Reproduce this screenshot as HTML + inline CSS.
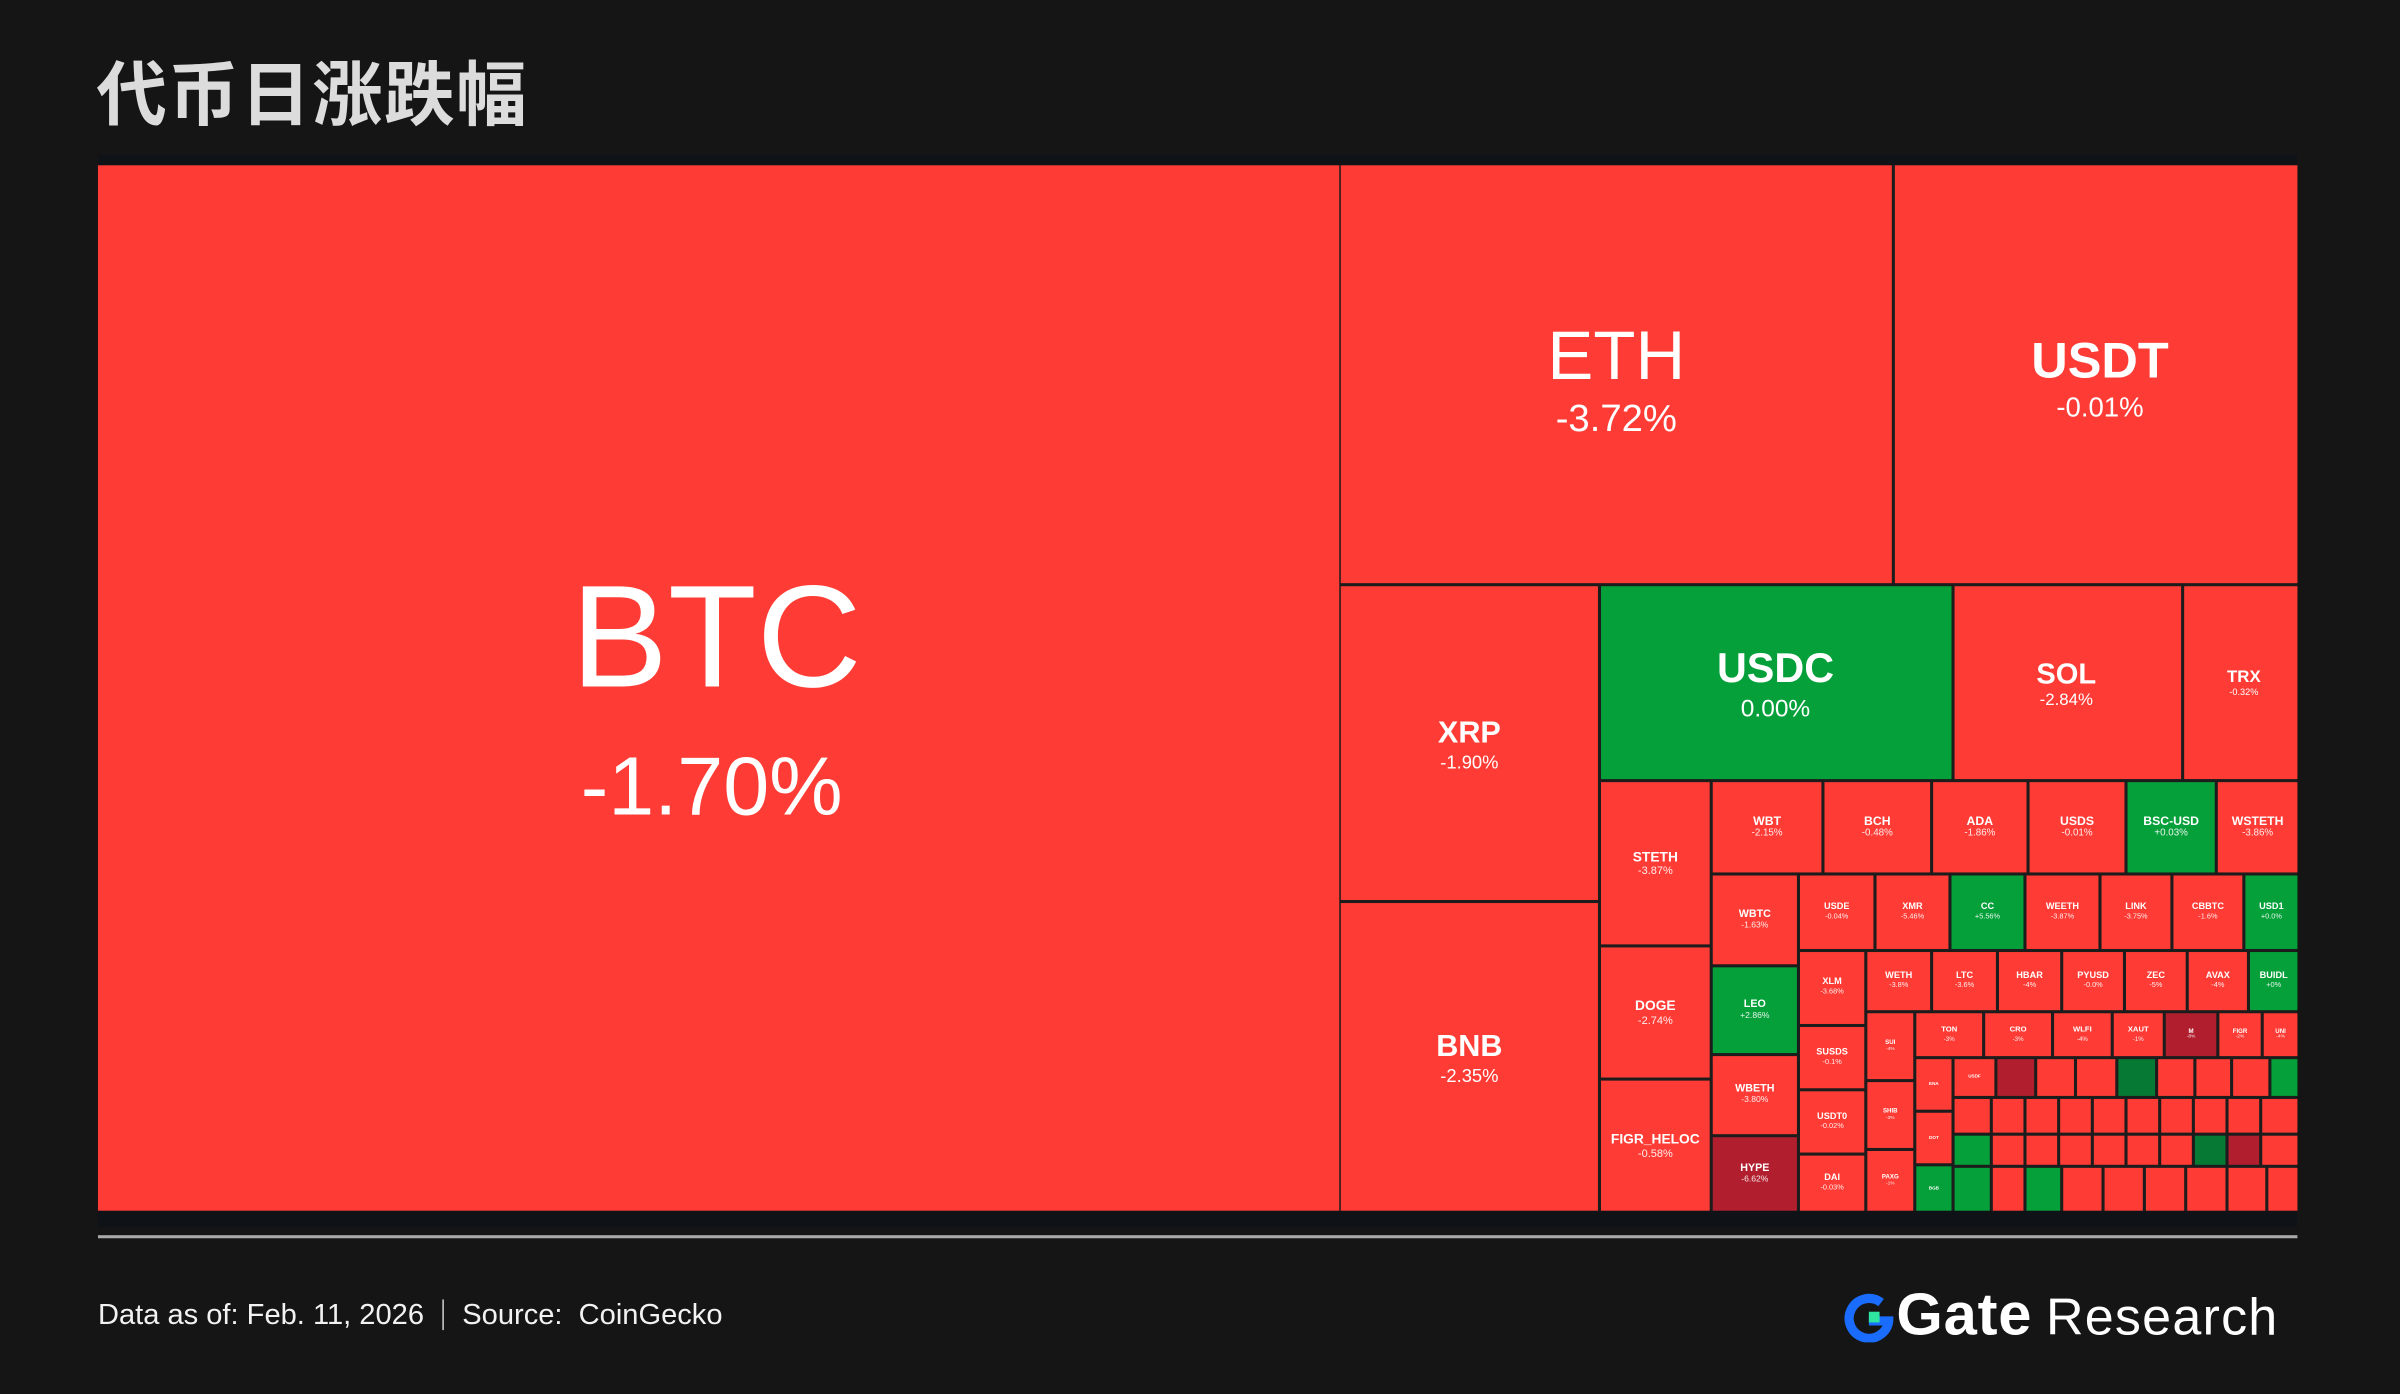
<!DOCTYPE html>
<html><head><meta charset="utf-8"><style>
html,body{margin:0;padding:0;background:#151515;}
body{width:2400px;height:1394px;overflow:hidden;position:relative;}
#w{position:absolute;left:0;top:0;width:1568px;height:911px;transform:scale(1.5306);transform-origin:0 0;}
.title{position:absolute;left:63px;top:39px;font:bold 46px "Liberation Sans","Noto Sans CJK SC",sans-serif;color:#dcdcdc;line-height:1;letter-spacing:1px;}
.cbg{position:absolute;left:64px;top:101px;width:1437px;height:701px;background:#0f1317;}
.tm{position:absolute;left:64px;top:108px;width:1437px;height:683px;background:#1c1c1c;}
.t{position:absolute;background:#fe3c35;display:flex;flex-direction:column;align-items:center;justify-content:center;color:#fff;font-family:"Liberation Sans",sans-serif;font-weight:bold;line-height:1.15;overflow:hidden;text-align:center;font-size:6px;}
.t span{font-weight:normal;font-size:0.8em;opacity:.9}
.g{background:#05a03a}.dr{background:#b11f2e}.dg{background:#067a35}
.L{position:absolute;color:#fff;font-family:"Liberation Sans",sans-serif;line-height:1;white-space:nowrap;transform:translate(-50%,-50%);}
.line{position:absolute;left:64px;top:807px;width:1437px;height:2px;background:#a9a9a9;}
.foot{position:absolute;left:64px;top:849px;font:19px "Liberation Sans",sans-serif;color:#f2f2f2;white-space:nowrap;}
.sep{display:inline-block;width:1px;height:20px;background:#ccc;vertical-align:-4px;margin:0 12px;}
.logo{position:absolute;left:1205px;top:838px;font-family:"Liberation Sans",sans-serif;color:#fff;white-space:nowrap;}
</style></head><body><div id="w">
<div class="title">代币日涨跌幅</div>
<div class="cbg"></div>
<div class="tm"></div>

<div class="t" style="left:64px;top:108px;width:811px;height:683px"></div>
<div class="L" style="left:468px;top:417px;font-size:95px">BTC</div>
<div class="L" style="left:465px;top:514px;font-size:54px">-1.70%</div>
<div class="t" style="left:876px;top:108px;width:360px;height:273px"></div>
<div class="L" style="left:1056px;top:232px;font-size:45px">ETH</div>
<div class="L" style="left:1056px;top:274px;font-size:25px">-3.72%</div>
<div class="t" style="left:1238px;top:108px;width:263px;height:273px"></div>
<div class="L" style="left:1372px;top:235px;font-size:33px;font-weight:bold">USDT</div>
<div class="L" style="left:1372px;top:266px;font-size:18px">-0.01%</div>
<div class="t" style="left:876px;top:383px;width:168px;height:205px"></div>
<div class="L" style="left:960px;top:479px;font-size:20px;font-weight:bold">XRP</div>
<div class="L" style="left:960px;top:498px;font-size:12px">-1.90%</div>
<div class="t" style="left:876px;top:590px;width:168px;height:201px"></div>
<div class="L" style="left:960px;top:684px;font-size:20px;font-weight:bold">BNB</div>
<div class="L" style="left:960px;top:703px;font-size:12px">-2.35%</div>
<div class="t g" style="left:1046px;top:383px;width:229px;height:126px"></div>
<div class="L" style="left:1160px;top:437px;font-size:27px;font-weight:bold">USDC</div>
<div class="L" style="left:1160px;top:464px;font-size:16px">0.00%</div>
<div class="t" style="left:1277px;top:383px;width:148px;height:126px"></div>
<div class="L" style="left:1350px;top:441px;font-size:19px;font-weight:bold">SOL</div>
<div class="L" style="left:1350px;top:458px;font-size:11px">-2.84%</div>
<div class="t" style="left:1427px;top:383px;width:74px;height:126px"></div>
<div class="L" style="left:1466px;top:443px;font-size:11px;font-weight:bold">TRX</div>
<div class="L" style="left:1466px;top:453px;font-size:6px">-0.32%</div>

<div class="t" style="left:1046px;top:511px;width:71px;height:106px;font-size:9px">STETH<span>-3.87%</span></div>
<div class="t" style="left:1046px;top:619px;width:71px;height:85px;font-size:9px">DOGE<span>-2.74%</span></div>
<div class="t" style="left:1046px;top:706px;width:71px;height:85px;font-size:9px">FIGR_HELOC<span>-0.58%</span></div>

<div class="t" style="left:1119px;top:511px;width:71px;height:59px;font-size:8px">WBT<span>-2.15%</span></div>
<div class="t" style="left:1192px;top:511px;width:69px;height:59px;font-size:8px">BCH<span>-0.48%</span></div>
<div class="t" style="left:1263px;top:511px;width:61px;height:59px;font-size:8px">ADA<span>-1.86%</span></div>
<div class="t" style="left:1326px;top:511px;width:62px;height:59px;font-size:8px">USDS<span>-0.01%</span></div>
<div class="t g" style="left:1390px;top:511px;width:57px;height:59px;font-size:8px">BSC-USD<span>+0.03%</span></div>
<div class="t" style="left:1449px;top:511px;width:52px;height:59px;font-size:8px">WSTETH<span>-3.86%</span></div>

<div class="t" style="left:1119px;top:572px;width:55px;height:58px;font-size:7px">WBTC<span>-1.63%</span></div>
<div class="t g" style="left:1119px;top:632px;width:55px;height:56px;font-size:7px">LEO<span>+2.86%</span></div>
<div class="t" style="left:1119px;top:690px;width:55px;height:51px;font-size:7px">WBETH<span>-3.80%</span></div>
<div class="t dr" style="left:1119px;top:743px;width:55px;height:48px;font-size:7px">HYPE<span>-6.62%</span></div>

<div class="t" style="left:1176px;top:572px;width:48px;height:48px">USDE<span>-0.04%</span></div>
<div class="t" style="left:1226px;top:572px;width:47px;height:48px">XMR<span>-5.46%</span></div>
<div class="t g" style="left:1275px;top:572px;width:47px;height:48px">CC<span>+5.56%</span></div>
<div class="t" style="left:1324px;top:572px;width:47px;height:48px">WEETH<span>-3.87%</span></div>
<div class="t" style="left:1373px;top:572px;width:45px;height:48px">LINK<span>-3.75%</span></div>
<div class="t" style="left:1420px;top:572px;width:45px;height:48px">CBBTC<span>-1.6%</span></div>
<div class="t g" style="left:1467px;top:572px;width:34px;height:48px">USD1<span>+0.0%</span></div>

<div class="t" style="left:1176px;top:622px;width:42px;height:47px">XLM<span>-3.68%</span></div>
<div class="t" style="left:1176px;top:671px;width:42px;height:40px">SUSDS<span>-0.1%</span></div>
<div class="t" style="left:1176px;top:713px;width:42px;height:40px">USDT0<span>-0.02%</span></div>
<div class="t" style="left:1176px;top:755px;width:42px;height:36px">DAI<span>-0.03%</span></div>

<div class="t" style="left:1220px;top:622px;width:41px;height:38px">WETH<span>-3.8%</span></div>
<div class="t" style="left:1263px;top:622px;width:41px;height:38px">LTC<span>-3.6%</span></div>
<div class="t" style="left:1306px;top:622px;width:40px;height:38px">HBAR<span>-4%</span></div>
<div class="t" style="left:1348px;top:622px;width:39px;height:38px">PYUSD<span>-0.0%</span></div>
<div class="t" style="left:1389px;top:622px;width:39px;height:38px">ZEC<span>-5%</span></div>
<div class="t" style="left:1430px;top:622px;width:38px;height:38px">AVAX<span>-4%</span></div>
<div class="t g" style="left:1470px;top:622px;width:31px;height:38px">BUIDL<span>+0%</span></div>

<div class="t" style="left:1220px;top:662px;width:30px;height:43px;font-size:4px">SUI<span>-4%</span></div>
<div class="t" style="left:1220px;top:707px;width:30px;height:43px;font-size:4px">SHIB<span>-3%</span></div>
<div class="t" style="left:1220px;top:752px;width:30px;height:39px;font-size:4px">PAXG<span>-1%</span></div>

<div class="t" style="left:1252px;top:662px;width:43px;height:28px;font-size:5px">TON<span>-3%</span></div>
<div class="t" style="left:1297px;top:662px;width:43px;height:28px;font-size:5px">CRO<span>-3%</span></div>
<div class="t" style="left:1342px;top:662px;width:37px;height:28px;font-size:5px">WLFI<span>-4%</span></div>
<div class="t" style="left:1381px;top:662px;width:32px;height:28px;font-size:5px">XAUT<span>-1%</span></div>
<div class="t dr" style="left:1415px;top:662px;width:33px;height:28px;font-size:4px">M<span>-8%</span></div>
<div class="t" style="left:1450px;top:662px;width:27px;height:28px;font-size:4px">FIGR<span>-2%</span></div>
<div class="t" style="left:1479px;top:662px;width:22px;height:28px;font-size:4px">UNI<span>-4%</span></div>

<div class="t" style="left:1252px;top:692px;width:23px;height:33px;font-size:3px">ENA</div>
<div class="t" style="left:1252px;top:727px;width:23px;height:33px;font-size:3px">DOT</div>
<div class="t g" style="left:1252px;top:762px;width:23px;height:29px;font-size:3px">BGB</div>

<div class="t" style="left:1277px;top:692px;width:26px;height:24px;font-size:3px">USDF</div>
<div class="t dr" style="left:1305px;top:692px;width:24px;height:24px"></div>
<div class="t" style="left:1331px;top:692px;width:24px;height:24px"></div>
<div class="t" style="left:1357px;top:692px;width:25px;height:24px"></div>
<div class="t dg" style="left:1384px;top:692px;width:24px;height:24px"></div>
<div class="t" style="left:1410px;top:692px;width:23px;height:24px"></div>
<div class="t" style="left:1435px;top:692px;width:22px;height:24px"></div>
<div class="t" style="left:1459px;top:692px;width:23px;height:24px"></div>
<div class="t g" style="left:1484px;top:692px;width:17px;height:24px"></div>

<div class="t" style="left:1277px;top:718px;width:23px;height:22px"></div>
<div class="t" style="left:1302px;top:718px;width:20px;height:22px"></div>
<div class="t" style="left:1324px;top:718px;width:20px;height:22px"></div>
<div class="t" style="left:1346px;top:718px;width:20px;height:22px"></div>
<div class="t" style="left:1368px;top:718px;width:20px;height:22px"></div>
<div class="t" style="left:1390px;top:718px;width:20px;height:22px"></div>
<div class="t" style="left:1412px;top:718px;width:20px;height:22px"></div>
<div class="t" style="left:1434px;top:718px;width:20px;height:22px"></div>
<div class="t" style="left:1456px;top:718px;width:20px;height:22px"></div>
<div class="t" style="left:1478px;top:718px;width:23px;height:22px"></div>

<div class="t g" style="left:1277px;top:742px;width:23px;height:19px"></div>
<div class="t" style="left:1302px;top:742px;width:20px;height:19px"></div>
<div class="t" style="left:1324px;top:742px;width:20px;height:19px"></div>
<div class="t" style="left:1346px;top:742px;width:20px;height:19px"></div>
<div class="t" style="left:1368px;top:742px;width:20px;height:19px"></div>
<div class="t" style="left:1390px;top:742px;width:20px;height:19px"></div>
<div class="t" style="left:1412px;top:742px;width:20px;height:19px"></div>
<div class="t dg" style="left:1434px;top:742px;width:20px;height:19px"></div>
<div class="t dr" style="left:1456px;top:742px;width:20px;height:19px"></div>
<div class="t" style="left:1478px;top:742px;width:23px;height:19px"></div>

<div class="t g" style="left:1277px;top:763px;width:23px;height:28px"></div>
<div class="t" style="left:1302px;top:763px;width:20px;height:28px"></div>
<div class="t g" style="left:1324px;top:763px;width:22px;height:28px"></div>
<div class="t" style="left:1348px;top:763px;width:25px;height:28px"></div>
<div class="t" style="left:1375px;top:763px;width:25px;height:28px"></div>
<div class="t" style="left:1402px;top:763px;width:25px;height:28px"></div>
<div class="t" style="left:1429px;top:763px;width:25px;height:28px"></div>
<div class="t" style="left:1456px;top:763px;width:24px;height:28px"></div>
<div class="t" style="left:1482px;top:763px;width:19px;height:28px"></div>

<div class="line"></div>
<div class="foot">Data as of: Feb. 11, 2026<span class="sep"></span>Source:&nbsp; CoinGecko</div>
<div class="logo"><svg width="32" height="32" viewBox="0 0 32 32" style="vertical-align:-5px;margin-right:2px"><path d="M24 6 A13 13 0 1 0 29 18 L16 18" fill="none" stroke="#1a6cff" stroke-width="6"/><rect x="16" y="12" width="7" height="7" fill="#2ee6a0"/></svg><span style="font-size:39px;font-weight:bold;letter-spacing:0.5px">Gate</span><span style="font-size:34px;margin-left:9px;letter-spacing:0.8px">Research</span></div>
</div></body></html>
